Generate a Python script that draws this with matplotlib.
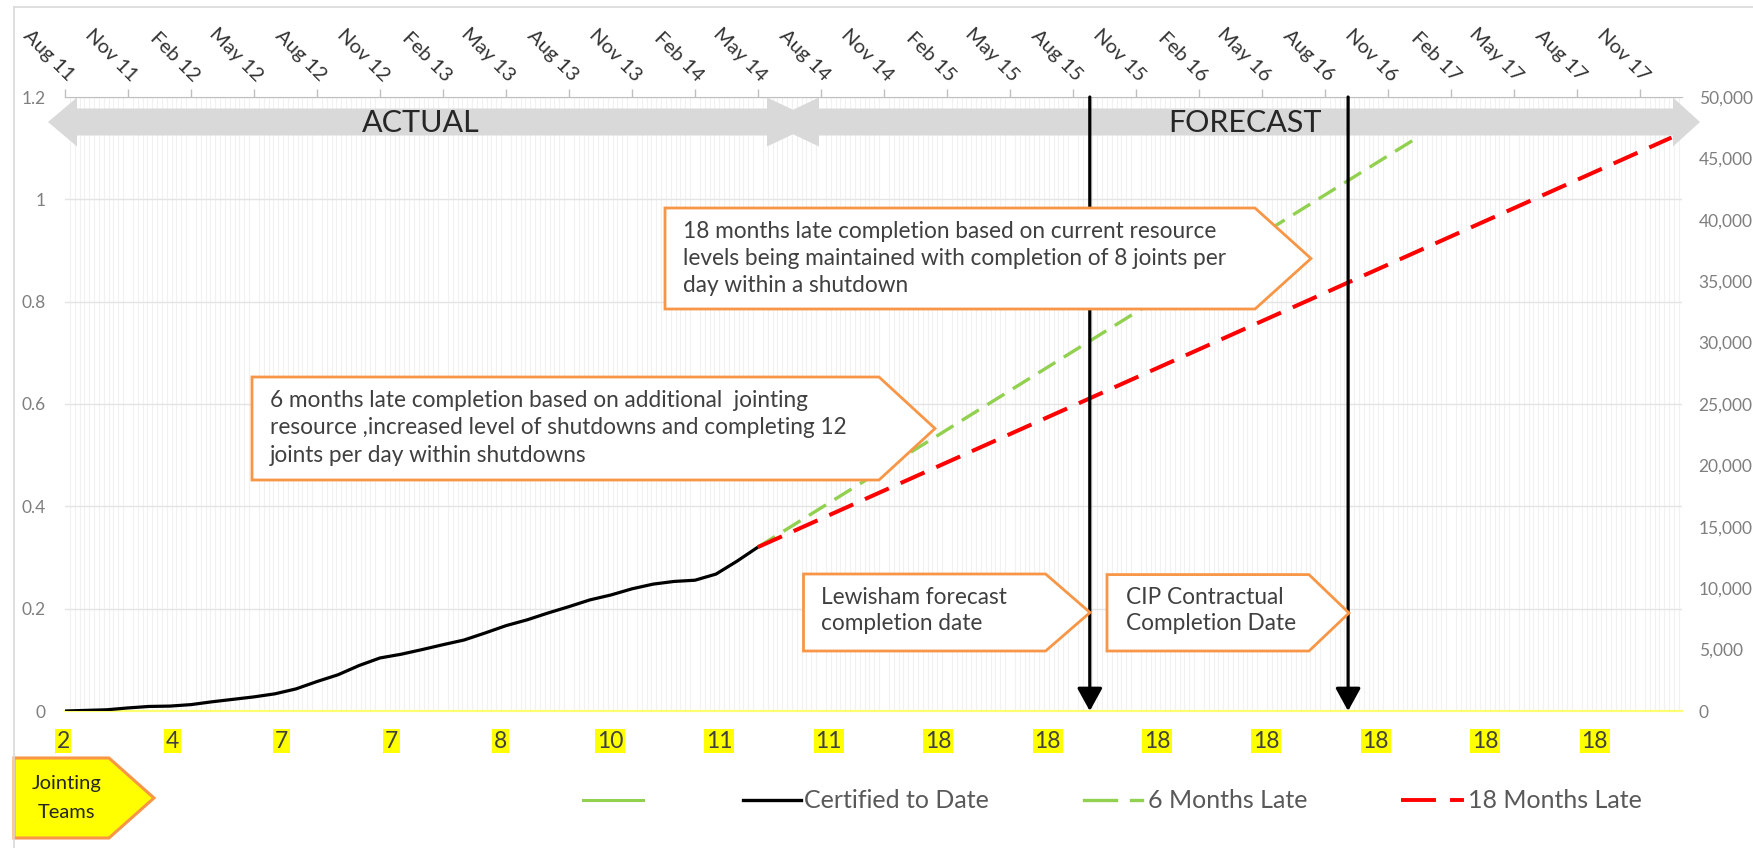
import numpy as np
import matplotlib
matplotlib.use('Agg')
import matplotlib.pyplot as plt
from matplotlib.patches import Polygon
from matplotlib.lines import Line2D

plt.rcParams['font.family'] = ['Lato', 'DejaVu Sans']

# ---- data (months counted from Aug 2011) ----
quarter_labels = ['Aug 11', 'Nov 11', 'Feb 12', 'May 12', 'Aug 12', 'Nov 12', 'Feb 13',
                  'May 13', 'Aug 13', 'Nov 13', 'Feb 14', 'May 14', 'Aug 14', 'Nov 14',
                  'Feb 15', 'May 15', 'Aug 15', 'Nov 15', 'Feb 16', 'May 16', 'Aug 16',
                  'Nov 16', 'Feb 17', 'May 17', 'Aug 17', 'Nov 17']
certified_months = list(range(34))
certified_joints = [0, 50, 100, 250, 370, 400, 520, 750, 950, 1150, 1400, 1800,
                    2400, 2950, 3700, 4320, 4620, 5000, 5400, 5780, 6350, 6950,
                    7420, 7980, 8500, 9050, 9450, 9950, 10330, 10550, 10650, 11150,
                    12200, 13350]
late6_months = [33, 64.4]
late6_joints = [13350, 46700]
late18_months = [33, 76.5]
late18_joints = [13350, 46700]
lewisham_month = 48.8
cip_month = 61.1
team_counts = [2, 4, 7, 7, 8, 10, 11, 11, 18, 18, 18, 18, 18, 18, 18]
left_ticks = [0, 0.2, 0.4, 0.6, 0.8, 1.0, 1.2]
left_labels = ['0', '0.2', '0.4', '0.6', '0.8', '1', '1.2']
right_ticks = list(range(0, 50001, 5000))

W, H = 1753, 848
ORANGE = '#f79646'
TXT = '#404040'


def fpx(x, y):
    # pixel position -> figure fraction
    return (x / W, 1 - y / H)


fig = plt.figure(figsize=(W / 100, H / 100), dpi=100)
fig.patch.set_facecolor('white')

# chart area border (top / left)
fig.add_artist(Line2D([14 / W, 14 / W], [0, 1 - 7 / H], color='#d9d9d9', lw=1.2))
fig.add_artist(Line2D([14 / W, 1], [1 - 7 / H, 1 - 7 / H], color='#d9d9d9', lw=1.2))

ax = fig.add_axes([65 / W, 1 - 711 / H, 1617 / W, 614 / H])
ax2 = ax.twinx()
ax.set_xlim(0, 77)
ax.set_ylim(0, 1.2)
ax2.set_ylim(0, 50000)

# top date axis
ax.xaxis.tick_top()
ax.set_xticks([3 * i for i in range(len(quarter_labels))])
ax.set_xticklabels(quarter_labels, rotation=-45, ha='right', va='bottom',
                   rotation_mode='anchor', fontsize=14.5, color='#333333')
ax.tick_params(axis='x', which='major', length=6, width=1, color='#bfbfbf', pad=3)
ax.set_xticks(np.arange(0, 77, 12 / 52), minor=True)
ax.tick_params(axis='x', which='minor', length=0)
ax.grid(axis='x', which='minor', color='#f1f1f1', lw=0.8)
ax.grid(axis='y', which='major', color='#e4e4e4', lw=1)

ax.set_yticks(left_ticks)
ax.set_yticklabels(left_labels)
ax.tick_params(axis='y', length=0, pad=14, labelsize=12.5, labelcolor='#7f7f7f')
ax2.set_yticks(right_ticks)
ax2.set_yticklabels([f'{v:,}' for v in right_ticks])
ax2.tick_params(axis='y', length=0, pad=12, labelsize=12.5, labelcolor='#7f7f7f')

for s in ['left', 'right']:
    ax.spines[s].set_visible(False)
ax.spines['top'].set_color('#bfbfbf')
ax.spines['bottom'].set_color('#ffff70')
ax.spines['bottom'].set_linewidth(1.6)
for s in ax2.spines.values():
    s.set_visible(False)

# series
ax2.plot(certified_months, certified_joints, color='black', lw=2.3, zorder=3,
         solid_joinstyle='round')
ax2.plot(late6_months, late6_joints, color='#92d050', lw=2.4, dashes=(6, 3), zorder=3)
ax2.plot(late18_months, late18_joints, color='#ff0000', lw=2.9, dashes=(6.5, 3.2), zorder=3.1)

# ACTUAL / FORECAST banner arrows
actual_pts = [(48, 122), (77, 97.5), (77, 108.5), (767, 108.5), (767, 97.5), (819, 122),
              (767, 146.5), (767, 135.5), (77, 135.5), (77, 146.5)]
forecast_pts = [(767, 122), (819, 97.5), (819, 108.5), (1673, 108.5), (1673, 97.5),
                (1700, 122), (1673, 146.5), (1673, 135.5), (819, 135.5), (819, 146.5)]
for pts in (actual_pts, forecast_pts):
    ax2.add_patch(Polygon([fpx(*p) for p in pts], closed=True, fc='#d9d9d9', ec='none',
                          transform=fig.transFigure, clip_on=False, zorder=4))
ax2.text(*fpx(421, 123), 'ACTUAL', transform=fig.transFigure, fontsize=22, color='#262626',
         ha='center', va='center', zorder=4.5)
ax2.text(*fpx(1245, 123), 'FORECAST', transform=fig.transFigure, fontsize=22, color='#262626',
         ha='center', va='center', zorder=4.5)

# completion date arrows
for m in (lewisham_month, cip_month):
    ax2.annotate('', xy=(m, 0), xytext=(m, 50000),
                 arrowprops=dict(arrowstyle='-|>,head_length=1.0,head_width=0.55',
                                 mutation_scale=14, lw=2.3, color='black',
                                 shrinkA=0, shrinkB=0),
                 zorder=5, annotation_clip=False)

# callouts
callouts = [
    ([(665, 208), (1255, 208), (1311, 258.5), (1255, 309), (665, 309)], 683,
     [231.7, 258, 285],
     ['18 months late completion based on current resource',
      'levels being maintained with completion of 8 joints per',
      'day within a shutdown']),
    ([(252, 377), (879, 377), (935, 428.5), (879, 480), (252, 480)], 270,
     [400.7, 427.7, 455],
     ['6 months late completion based on additional  jointing',
      'resource ,increased level of shutdowns and completing 12',
      'joints per day within shutdowns']),
    ([(803.5, 574), (1045.6, 574), (1090, 612.5), (1045.6, 651), (803.5, 651)], 821,
     [597, 624],
     ['Lewisham forecast', 'completion date']),
    ([(1107, 574.6), (1309, 574.6), (1349, 613), (1309, 651), (1107, 651)], 1126,
     [597, 624],
     ['CIP Contractual', 'Completion Date']),
]
for pts, tx, ys, lines in callouts:
    ax2.add_patch(Polygon([fpx(*p) for p in pts], closed=True, fc='white', ec=ORANGE,
                          lw=2, transform=fig.transFigure, clip_on=False, zorder=6))
    for ty, line in zip(ys, lines):
        ax2.text(*fpx(tx, ty), line, transform=fig.transFigure, fontsize=16.3, color=TXT,
                 ha='left', va='center', zorder=7)

# jointing teams row
for i, n in enumerate(team_counts):
    ax2.text(*fpx(63 + i * 109.4, 741), str(n), transform=fig.transFigure, fontsize=16.5,
             color=TXT, ha='center', va='center',
             bbox=dict(boxstyle='square,pad=0.08', fc='#ffff00', ec='none'))

ax2.add_patch(Polygon([fpx(*p) for p in [(14, 758), (109, 758), (154, 798), (109, 838), (14, 838)]],
                      closed=True, fc='#ffff00', ec=ORANGE, lw=2.2,
                      transform=fig.transFigure, clip_on=False, zorder=6))
ax2.text(*fpx(67, 784), 'Jointing', transform=fig.transFigure, fontsize=14.5, color='#262626',
         ha='center', va='center', zorder=7)
ax2.text(*fpx(67, 812), 'Teams', transform=fig.transFigure, fontsize=14.5, color='#262626',
         ha='center', va='center', zorder=7)

# legend
LY = 800
legend_segs = [
    ([583, 643], '#92d050', 2.2),
    ([743, 801], 'black', 2.4),
    ([1084, 1116], '#92d050', 2.4), ([1131, 1142], '#92d050', 2.4),
    ([1403, 1434], '#ff0000', 2.8), ([1452, 1462], '#ff0000', 2.8),
]
for xs, c, lw in legend_segs:
    fig.add_artist(Line2D([x / W for x in xs], [1 - LY / H] * 2, color=c, lw=lw))
for x, label in [(804, 'Certified to Date'), (1148, '6 Months Late'), (1468, '18 Months Late')]:
    fig.text(*fpx(x, LY), label, fontsize=18, color='#595959', ha='left', va='center')

fig.savefig('out.png', dpi=100)
